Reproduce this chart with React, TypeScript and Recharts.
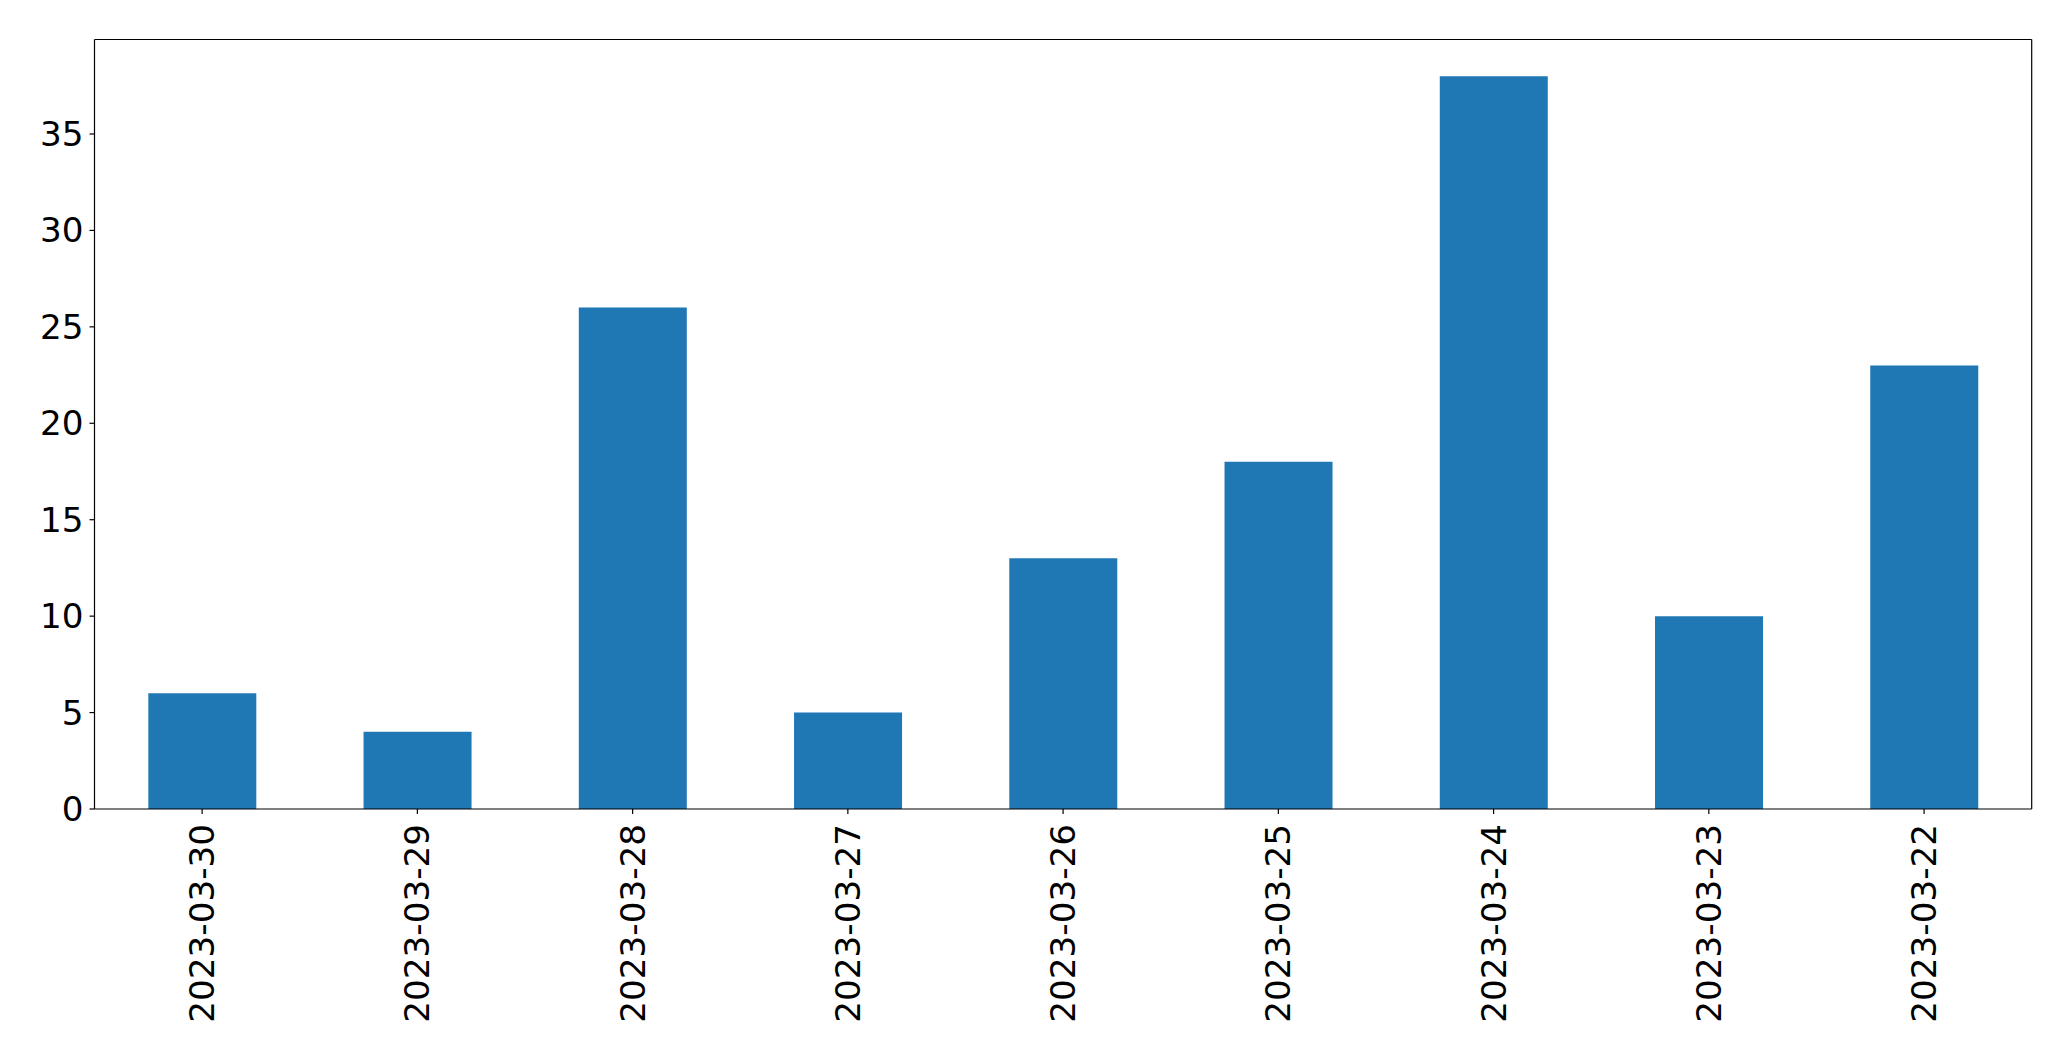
import React from "react";
import { BarChart, Bar, XAxis, YAxis } from "recharts";

const categories = [
  "2023-03-30",
  "2023-03-29",
  "2023-03-28",
  "2023-03-27",
  "2023-03-26",
  "2023-03-25",
  "2023-03-24",
  "2023-03-23",
  "2023-03-22",
];
const counts = [6, 4, 26, 5, 13, 18, 38, 10, 23];
const yTicks = [0, 5, 10, 15, 20, 25, 30, 35];

const data = categories.map((c, i) => ({ date: c, count: counts[i] }));

const FONT = "'DejaVu Sans', sans-serif";
const FS = 34.2;

const XTick = (props: any) => {
  const { x, y, payload } = props;
  return (
    <text
      x={x}
      y={y}
      transform={`rotate(-90, ${x}, ${y})`}
      textAnchor="end"
      dominantBaseline="central"
      fontFamily={FONT}
      fontSize={FS}
      fill="#000"
    >
      {payload.value}
    </text>
  );
};

const YTick = (props: any) => {
  const { x, y, payload } = props;
  return (
    <text
      x={x}
      y={y}
      textAnchor="end"
      dominantBaseline="central"
      fontFamily={FONT}
      fontSize={FS}
      fill="#000"
    >
      {payload.value}
    </text>
  );
};

const line = { stroke: "#000", strokeWidth: 1.2 };

export default function App() {
  return (
    <div style={{ width: 2055, height: 1045, background: "#fff" }}>
      <BarChart
        width={2055}
        height={1045}
        data={data}
        margin={{ top: 30.5, right: 30.3, bottom: 4, left: 0 }}
        barCategoryGap="25%"
      >
        <XAxis
          dataKey="date"
          xAxisId="main"
          tick={<XTick />}
          tickSize={5}
          tickMargin={10}
          height={240}
          interval={0}
          axisLine={line}
          tickLine={line}
        />
        <XAxis
          dataKey="date"
          xAxisId="top"
          orientation="top"
          height={1}
          tick={false}
          tickLine={false}
          axisLine={line}
        />
        <YAxis
          yAxisId="main"
          domain={[0, 39.9]}
          ticks={yTicks}
          width={86.5}
          tick={<YTick />}
          tickSize={5}
          tickMargin={6}
          allowDataOverflow
          axisLine={line}
          tickLine={line}
        />
        <YAxis
          yAxisId="right"
          orientation="right"
          domain={[0, 39.9]}
          width={1}
          tick={false}
          tickLine={false}
          axisLine={line}
        />
        <Bar
          dataKey="count"
          xAxisId="main"
          yAxisId="main"
          fill="#1f77b4"
          isAnimationActive={false}
        />
      </BarChart>
    </div>
  );
}
